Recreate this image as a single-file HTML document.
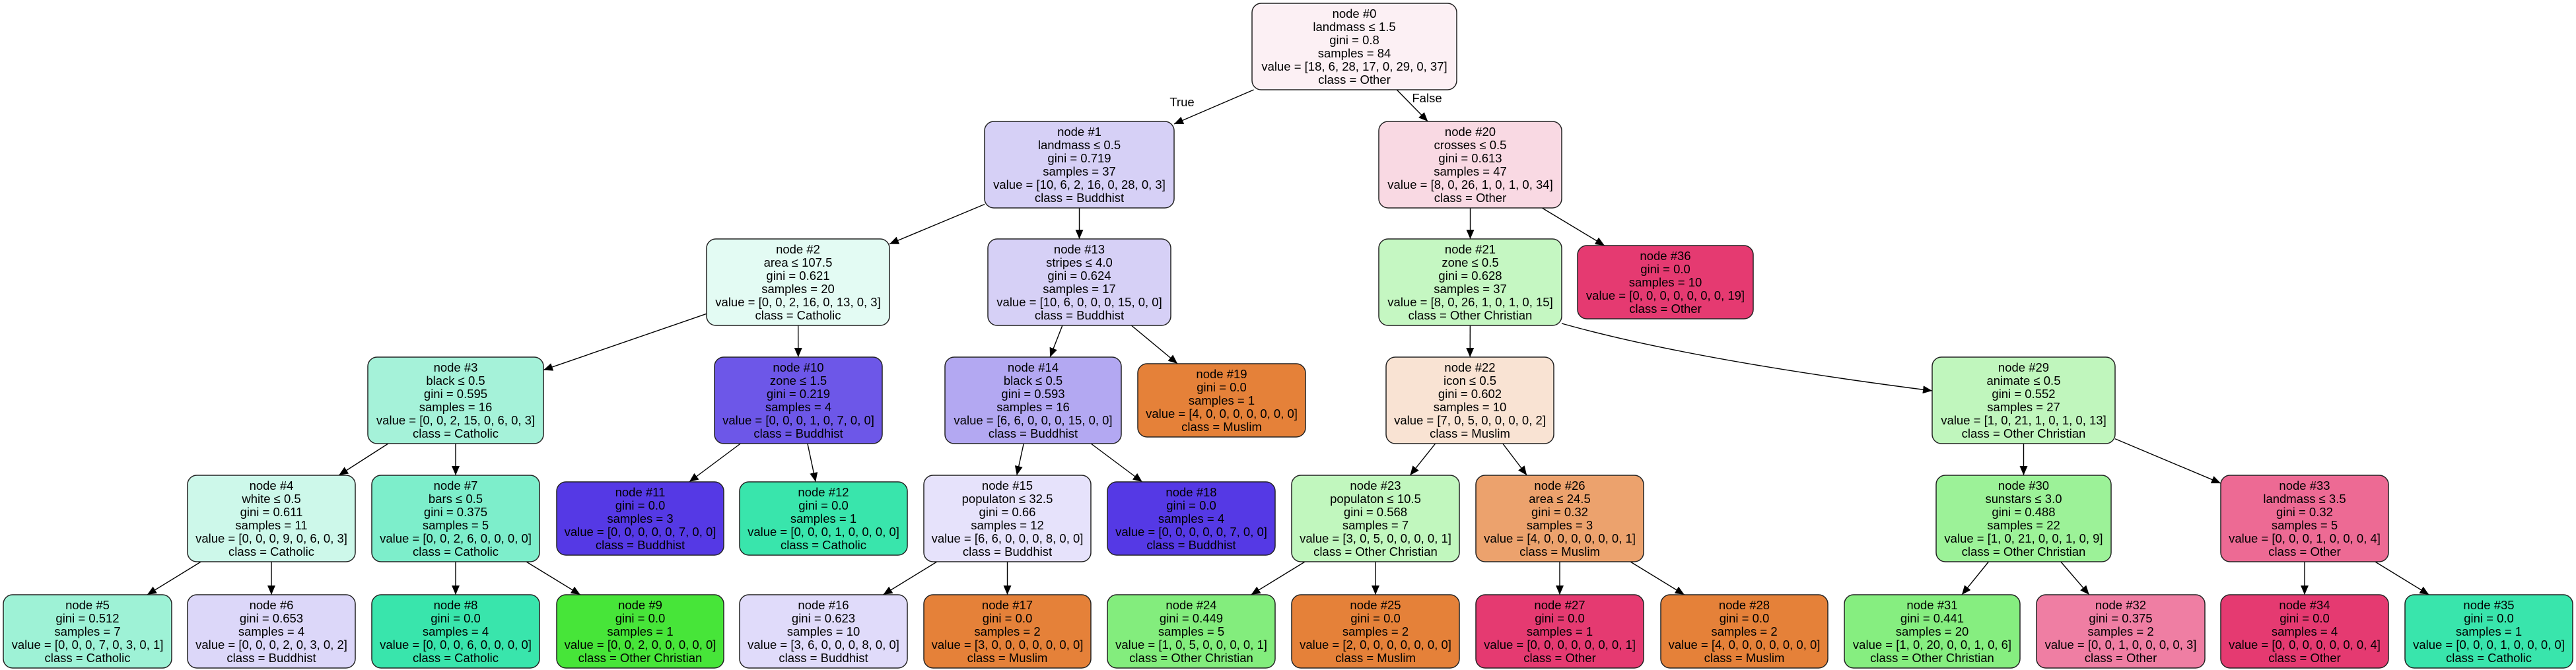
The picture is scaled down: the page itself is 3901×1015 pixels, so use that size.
<!DOCTYPE html>
<html><head><meta charset="utf-8">
<style>
html,body{margin:0;padding:0;background:#fff;width:3901px;height:1015px;overflow:hidden}
svg text{font-family:"Liberation Sans",Arial,sans-serif;font-size:18.5px;fill:#000}
</style></head>
<body>
<svg id="g" xmlns="http://www.w3.org/2000/svg" width="3901" height="1015" viewBox="0 0 3901 1015">
<defs><marker id="ah" markerWidth="14" markerHeight="12" refX="14" refY="6" orient="auto" markerUnits="userSpaceOnUse"><path d="M0,0 L14,6 L0,12 z" fill="#000"/></marker></defs>
<text x="1790" y="161" text-anchor="middle">True</text>
<text x="2161" y="155" text-anchor="middle">False</text>
</svg>
<script>
var R=[5,184,362,541,720,901];
var N={
0:[1896,2206,0,"#fcf0f4",["node #0","landmass ≤ 1.5","gini = 0.8","samples = 84","value = [18, 6, 28, 17, 0, 29, 0, 37]","class = Other"]],
1:[1491,1778,1,"#d6d0f6",["node #1","landmass ≤ 0.5","gini = 0.719","samples = 37","value = [10, 6, 2, 16, 0, 28, 0, 3]","class = Buddhist"]],
20:[2088,2365,1,"#f9d9e3",["node #20","crosses ≤ 0.5","gini = 0.613","samples = 47","value = [8, 0, 26, 1, 0, 1, 0, 34]","class = Other"]],
2:[1070,1347,2,"#e3fbf3",["node #2","area ≤ 107.5","gini = 0.621","samples = 20","value = [0, 0, 2, 16, 0, 13, 0, 3]","class = Catholic"]],
13:[1496,1773,2,"#d6d0f6",["node #13","stripes ≤ 4.0","gini = 0.624","samples = 17","value = [10, 6, 0, 0, 0, 15, 0, 0]","class = Buddhist"]],
21:[2088,2365,2,"#c5f7c2",["node #21","zone ≤ 0.5","gini = 0.628","samples = 37","value = [8, 0, 26, 1, 0, 1, 0, 15]","class = Other Christian"]],
36:[2389,2655,2,"#e53a71",["node #36","gini = 0.0","samples = 10","value = [0, 0, 0, 0, 0, 0, 0, 19]","class = Other"]],
3:[557,823,3,"#a5f2d9",["node #3","black ≤ 0.5","gini = 0.595","samples = 16","value = [0, 0, 2, 15, 0, 6, 0, 3]","class = Catholic"]],
10:[1082,1336,3,"#6d57e8",["node #10","zone ≤ 1.5","gini = 0.219","samples = 4","value = [0, 0, 0, 1, 0, 7, 0, 0]","class = Buddhist"]],
14:[1431,1698,3,"#b3a8f2",["node #14","black ≤ 0.5","gini = 0.593","samples = 16","value = [6, 6, 0, 0, 0, 15, 0, 0]","class = Buddhist"]],
19:[1723,1977,3,"#e58139",["node #19","gini = 0.0","samples = 1","value = [4, 0, 0, 0, 0, 0, 0, 0]","class = Muslim"]],
22:[2099,2353,3,"#f9e3d3",["node #22","icon ≤ 0.5","gini = 0.602","samples = 10","value = [7, 0, 5, 0, 0, 0, 0, 2]","class = Muslim"]],
29:[2926,3203,3,"#c0f6bd",["node #29","animate ≤ 0.5","gini = 0.552","samples = 27","value = [1, 0, 21, 1, 0, 1, 0, 13]","class = Other Christian"]],
4:[284,538,4,"#cdf8ea",["node #4","white ≤ 0.5","gini = 0.611","samples = 11","value = [0, 0, 0, 9, 0, 6, 0, 3]","class = Catholic"]],
7:[563,817,4,"#7deecb",["node #7","bars ≤ 0.5","gini = 0.375","samples = 5","value = [0, 0, 2, 6, 0, 0, 0, 0]","class = Catholic"]],
11:[843,1096,4,"#5539e5",["node #11","gini = 0.0","samples = 3","value = [0, 0, 0, 0, 0, 7, 0, 0]","class = Buddhist"]],
12:[1120,1374,4,"#39e5ac",["node #12","gini = 0.0","samples = 1","value = [0, 0, 0, 1, 0, 0, 0, 0]","class = Catholic"]],
15:[1399,1652,4,"#e6e2fb",["node #15","populaton ≤ 32.5","gini = 0.66","samples = 12","value = [6, 6, 0, 0, 0, 8, 0, 0]","class = Buddhist"]],
18:[1677,1931,4,"#5539e5",["node #18","gini = 0.0","samples = 4","value = [0, 0, 0, 0, 0, 7, 0, 0]","class = Buddhist"]],
23:[1956,2210,4,"#c1f7be",["node #23","populaton ≤ 10.5","gini = 0.568","samples = 7","value = [3, 0, 5, 0, 0, 0, 0, 1]","class = Other Christian"]],
26:[2235,2489,4,"#eca26d",["node #26","area ≤ 24.5","gini = 0.32","samples = 3","value = [4, 0, 0, 0, 0, 0, 0, 1]","class = Muslim"]],
30:[2932,3197,4,"#9cf298",["node #30","sunstars ≤ 3.0","gini = 0.488","samples = 22","value = [1, 0, 21, 0, 0, 1, 0, 9]","class = Other Christian"]],
33:[3363,3617,4,"#ed6a94",["node #33","landmass ≤ 3.5","gini = 0.32","samples = 5","value = [0, 0, 0, 1, 0, 0, 0, 4]","class = Other"]],
5:[5,260,5,"#9ef2d6",["node #5","gini = 0.512","samples = 7","value = [0, 0, 0, 7, 0, 3, 0, 1]","class = Catholic"]],
6:[284,538,5,"#dcd7f9",["node #6","gini = 0.653","samples = 4","value = [0, 0, 0, 2, 0, 3, 0, 2]","class = Buddhist"]],
8:[563,817,5,"#39e5ac",["node #8","gini = 0.0","samples = 4","value = [0, 0, 0, 6, 0, 0, 0, 0]","class = Catholic"]],
9:[843,1096,5,"#47e539",["node #9","gini = 0.0","samples = 1","value = [0, 0, 2, 0, 0, 0, 0, 0]","class = Other Christian"]],
16:[1120,1374,5,"#e0dbfa",["node #16","gini = 0.623","samples = 10","value = [3, 6, 0, 0, 0, 8, 0, 0]","class = Buddhist"]],
17:[1399,1652,5,"#e58139",["node #17","gini = 0.0","samples = 2","value = [3, 0, 0, 0, 0, 0, 0, 0]","class = Muslim"]],
24:[1677,1931,5,"#83ed7d",["node #24","gini = 0.449","samples = 5","value = [1, 0, 5, 0, 0, 0, 0, 1]","class = Other Christian"]],
25:[1956,2210,5,"#e58139",["node #25","gini = 0.0","samples = 2","value = [2, 0, 0, 0, 0, 0, 0, 0]","class = Muslim"]],
27:[2235,2489,5,"#e53a71",["node #27","gini = 0.0","samples = 1","value = [0, 0, 0, 0, 0, 0, 0, 1]","class = Other"]],
28:[2515,2768,5,"#e58139",["node #28","gini = 0.0","samples = 2","value = [4, 0, 0, 0, 0, 0, 0, 0]","class = Muslim"]],
31:[2793,3059,5,"#86ee80",["node #31","gini = 0.441","samples = 20","value = [1, 0, 20, 0, 0, 1, 0, 6]","class = Other Christian"]],
32:[3084,3339,5,"#ef7ea3",["node #32","gini = 0.375","samples = 2","value = [0, 0, 1, 0, 0, 0, 0, 3]","class = Other"]],
34:[3363,3617,5,"#e53a71",["node #34","gini = 0.0","samples = 4","value = [0, 0, 0, 0, 0, 0, 0, 4]","class = Other"]],
35:[3642,3896,5,"#39e5ac",["node #35","gini = 0.0","samples = 1","value = [0, 0, 0, 1, 0, 0, 0, 0]","class = Catholic"]]
};
var E=[[0,1],[0,20],[1,2],[1,13],[2,3],[2,10],[3,4],[3,7],[4,5],[4,6],[7,8],[7,9],[10,11],[10,12],[13,14],[13,19],[14,15],[14,18],[15,16],[15,17],[20,21],[20,36],[22,23],[22,26],[23,24],[23,25],[26,27],[26,28],[29,30],[29,33],[30,31],[30,32],[33,34],[33,35],[21,22]];
var NS="http://www.w3.org/2000/svg",svg=document.getElementById("g");
function box(id){var n=N[id],h=n[4].length==6?131:111,top=n[2]==5?901:R[n[2]]+(n[4].length==6?0:10);return{x1:n[0],x2:n[1],y1:top,y2:top+h,cx:(n[0]+n[1])/2,cy:top+h/2};}
function el(t,a){var e=document.createElementNS(NS,t);for(var k in a)e.setAttribute(k,a[k]);svg.appendChild(e);return e;}
function clip(b,dx,dy){var ts=[];if(dx>0)ts.push((b.x2-b.cx)/dx);if(dx<0)ts.push((b.x1-b.cx)/dx);if(dy>0)ts.push((b.y2-b.cy)/dy);if(dy<0)ts.push((b.y1-b.cy)/dy);return Math.min.apply(null,ts);}
E.forEach(function(e){var a=box(e[0]),b=box(e[1]);var dx=b.cx-a.cx,dy=b.cy-a.cy;var t1=clip(a,dx,dy),t2=clip(b,-dx,-dy);
el("line",{x1:a.cx+dx*t1,y1:a.cy+dy*t1,x2:b.cx-dx*t2,y2:b.cy-dy*t2,stroke:"#000","stroke-width":1.4,"marker-end":"url(#ah)"});});
el("path",{d:"M2365,490 Q2560,545 2926,592",fill:"none",stroke:"#000","stroke-width":1.4,"marker-end":"url(#ah)"});
for(var id in N){var n=N[id],b=box(id);
el("rect",{x:b.x1,y:b.y1,width:b.x2-b.x1,height:b.y2-b.y1,rx:14,ry:14,fill:n[3],stroke:"#222","stroke-width":1.5});
var L=n[4],y0=b.cy-(L.length-1)*10;
L.forEach(function(s,i){var t=el("text",{x:b.cx,y:y0+i*20+6.5,"text-anchor":"middle"});t.textContent=s;});}
</script>
</body></html>
